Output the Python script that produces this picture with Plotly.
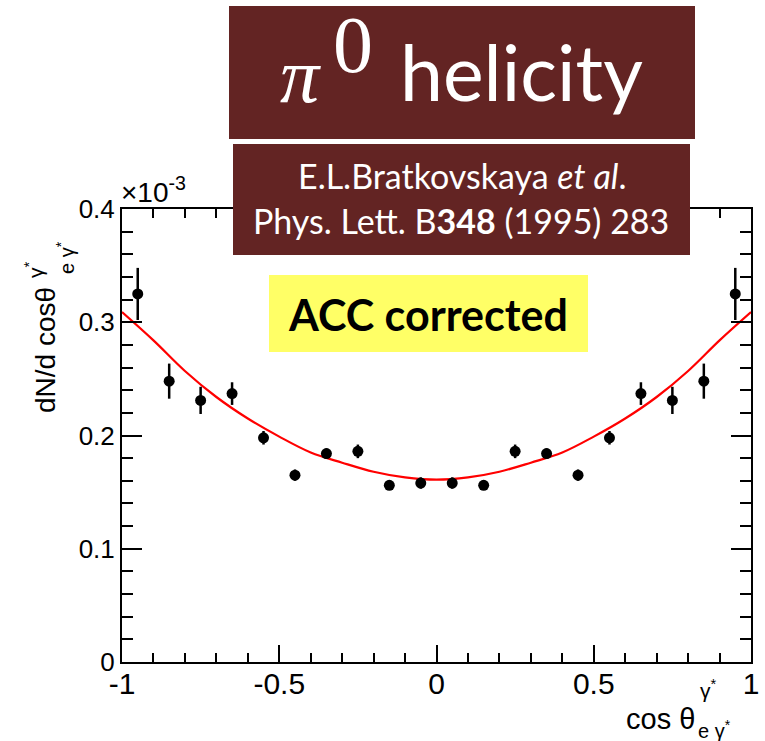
import plotly.graph_objects as go

# ---- data (values shown in units of 1e-3) ----
cos_theta = [-0.95, -0.85, -0.75, -0.65, -0.55, -0.45, -0.35, -0.25, -0.15, -0.05,
             0.05, 0.15, 0.25, 0.35, 0.45, 0.55, 0.65, 0.75, 0.85, 0.95]
dN = [0.325, 0.248, 0.231, 0.237, 0.198, 0.165, 0.184, 0.186, 0.156, 0.158,
      0.158, 0.156, 0.186, 0.184, 0.165, 0.198, 0.237, 0.231, 0.248, 0.325]
dN_err = [0.023, 0.0155, 0.012, 0.010, 0.006, 0.005, 0.0045, 0.006, 0.004, 0.005,
          0.005, 0.004, 0.006, 0.0045, 0.005, 0.006, 0.010, 0.012, 0.0155, 0.023]

fit_x = [-1.0, -0.9, -0.8, -0.7, -0.6, -0.5, -0.4, -0.3, -0.2, -0.1, 0.0,
         0.1, 0.2, 0.3, 0.4, 0.5, 0.6, 0.7, 0.8, 0.9, 1.0]
fit_y = [0.309, 0.284, 0.257, 0.234, 0.215, 0.199, 0.185, 0.176, 0.168, 0.163, 0.161,
         0.163, 0.168, 0.176, 0.185, 0.199, 0.215, 0.234, 0.257, 0.284, 0.309]

x_tickvals = [-1, -0.5, 0, 0.5, 1]
x_ticktext = ["-1", "-0.5", "0", "0.5", "1"]
y_tickvals = [0, 0.1, 0.2, 0.3, 0.4]
y_ticktext = ["0", "0.1", "0.2", "0.3", "0.4"]

# ---- layout geometry (pixels) ----
W, H = 765, 741
L, R, T, B = 122, 14, 209, 79
PW, PH = W - L - R, H - T - B


def px(x):
    return (x - L) / PW


def py(y):
    return (H - B - y) / PH


fig = go.Figure()
fig.add_trace(go.Scatter(x=fit_x, y=fit_y, mode="lines",
                         line=dict(color="#ff0000", width=2.2, shape="spline"),
                         hoverinfo="skip", showlegend=False))
fig.add_trace(go.Scatter(x=cos_theta, y=dN, mode="markers",
                         marker=dict(color="black", size=11),
                         error_y=dict(type="data", array=dN_err, color="black",
                                      thickness=2.5, width=0),
                         showlegend=False))

axis_font = "Liberation Sans, Arial, sans-serif"
fig.update_xaxes(range=[-1, 1], tickvals=x_tickvals, ticktext=x_ticktext,
                 ticks="inside", ticklen=17, tickwidth=1.5, tickcolor="black",
                 minor=dict(dtick=0.1, ticks="inside", ticklen=9, tickwidth=1.5, tickcolor="black"),
                 showline=True, linecolor="black", linewidth=2, mirror="ticks",
                 showgrid=False, zeroline=False, automargin=False, ticklabelstandoff=-6,
                 tickfont=dict(family=axis_font, size=30, color="black"))
fig.update_yaxes(range=[0, 0.4], tickvals=y_tickvals, ticktext=y_ticktext,
                 ticks="inside", ticklen=20, tickwidth=1.5, tickcolor="black",
                 minor=dict(dtick=0.02, ticks="inside", ticklen=11, tickwidth=1.5, tickcolor="black"),
                 showline=True, linecolor="black", linewidth=2, mirror="ticks",
                 showgrid=False, zeroline=False, automargin=False,
                 tickfont=dict(family=axis_font, size=26, color="black"))

maroon = "#632423"
shapes = [
    dict(type="rect", xref="paper", yref="paper", x0=px(229), x1=px(695), y0=py(139), y1=py(6),
         fillcolor=maroon, line=dict(width=0), layer="above"),
    dict(type="rect", xref="paper", yref="paper", x0=px(233), x1=px(690), y0=py(255), y1=py(144),
         fillcolor=maroon, line=dict(width=0), layer="above"),
    dict(type="rect", xref="paper", yref="paper", x0=px(269), x1=px(588), y0=py(352), y1=py(275),
         fillcolor="#ffff66", line=dict(width=0), layer="above"),
]

ann = []


def A(text, x, y, size, family, color="black", xa="center", ya="middle", angle=0):
    ann.append(dict(text=text, xref="paper", yref="paper", x=px(x), y=py(y),
                    xanchor=xa, yanchor=ya, showarrow=False, textangle=angle,
                    font=dict(size=size, family=family, color=color)))


lato = "Lato, sans-serif"
serif = "Liberation Serif, serif"
# title box
A("<i>π</i>", 300, 75, 78, serif, "white")
A("0", 353, 45, 80, serif, "white")
A("helicity", 521, 71, 77, lato, "white")
# reference box
A("E.L.Bratkovskaya <i>et al</i>.", 462, 175, 34, lato, "white")
A("Phys. Lett. B<b>348</b> (1995) 283", 461, 220, 34, lato, "white")
# yellow box
A("<b>ACC corrected</b>", 428, 314, 43, lato, "black")
# exponent
A("×10<sup>-3</sup>", 119, 210, 28, axis_font, "black", xa="left", ya="bottom")
# y title
A("dN/d cosθ", 45, 350, 28, axis_font, "black", angle=-90)
A("γ<sup>*</sup>", 34, 270, 21, axis_font, "black", angle=-90)
A("e γ<sup>*</sup>", 65, 258, 20, axis_font, "black", angle=-90)
# x title
A("cos θ", 660, 719, 29, axis_font, "black")
A("γ<sup>*</sup>", 708, 689, 21, axis_font, "black")
A("e γ<sup>*</sup>", 714, 729, 20, axis_font, "black")

fig.update_layout(width=W, height=H, margin=dict(l=L, r=R, t=T, b=B),
                  plot_bgcolor="white", paper_bgcolor="white",
                  shapes=shapes, annotations=ann, showlegend=False)

fig.write_html("out.html", config={"displayModeBar": False},
               post_script="document.body.style.margin='0px';document.body.style.overflow='hidden';")
